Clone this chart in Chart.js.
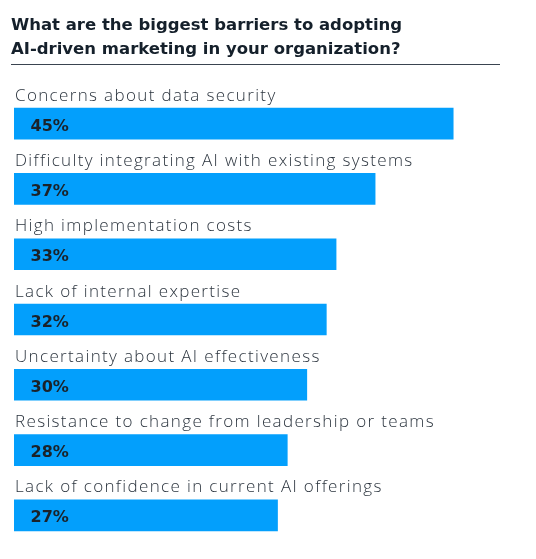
<!DOCTYPE html>
<html>
<head>
<meta charset="utf-8">
<script src="https://cdn.jsdelivr.net/npm/chart.js@4.4.1/dist/chart.umd.min.js"></script>
<style>
  html, body { margin: 0; padding: 0; background: #fff; }
</style>
</head>
<body>
<canvas id="chart" width="536" height="559"></canvas>
<script>
const titleLines = [
  "What are the biggest barriers to adopting",
  "AI-driven marketing in your organization?"
];
const categories = [
  "Concerns about data security",
  "Difficulty integrating AI with existing systems",
  "High implementation costs",
  "Lack of internal expertise",
  "Uncertainty about AI effectiveness",
  "Resistance to change from leadership or teams",
  "Lack of confidence in current AI offerings"
];
const values = [45, 37, 33, 32, 30, 28, 27];

const BAR_COLOR = "#039ffc";
const TITLE_COLOR = "#15202b";
const LABEL_COLOR = "#2b343e";

// title + rule on top of the chart
const titleBlock = {
  id: "titleBlock",
  beforeDraw(chart) {
    const { ctx } = chart;
    ctx.save();
    ctx.fillStyle = TITLE_COLOR;
    ctx.font = "700 16.5px 'DejaVu Sans'";
    ctx.textBaseline = "alphabetic";
    ctx.fillText(titleLines[0], 11, 30);
    ctx.fillText(titleLines[1], 11, 53.5);
    ctx.strokeStyle = "#3a4450";
    ctx.lineWidth = 1;
    ctx.beginPath();
    ctx.moveTo(11, 64.5);
    ctx.lineTo(500, 64.5);
    ctx.stroke();
    ctx.restore();
  }
};

// category text above each bar, value inside the bar
const barLabels = {
  id: "barLabels",
  afterDatasetsDraw(chart) {
    const { ctx } = chart;
    const meta = chart.getDatasetMeta(0);
    ctx.save();
    ctx.textAlign = "left";
    ctx.textBaseline = "alphabetic";
    meta.data.forEach((bar, i) => {
      const top = bar.y - bar.height / 2;
      ctx.fillStyle = LABEL_COLOR;
      ctx.font = "300 17px 'Open Sans'";
      ctx.letterSpacing = "1.35px";
      ctx.fillText(categories[i], bar.base + 1, top - 7.5);

      ctx.fillStyle = "#1b2229";
      ctx.font = "700 16px 'DejaVu Sans'";
      ctx.letterSpacing = "0px";
      ctx.fillText(values[i] + "%", bar.base + 16.5, bar.y + 7);
    });
    ctx.restore();
  }
};

new Chart(document.getElementById("chart"), {
  type: "bar",
  data: {
    labels: categories,
    datasets: [{
      data: values,
      backgroundColor: BAR_COLOR,
      borderWidth: 0,
      barThickness: 31
    }]
  },
  options: {
    indexAxis: "y",
    responsive: false,
    animation: false,
    layout: { padding: { top: 91, bottom: 11, left: 14, right: 34 } },
    scales: {
      x: { display: false, min: 0, max: 50 },
      y: { display: false }
    },
    plugins: {
      legend: { display: false },
      tooltip: { enabled: false }
    }
  },
  plugins: [titleBlock, barLabels]
});
</script>
</body>
</html>
